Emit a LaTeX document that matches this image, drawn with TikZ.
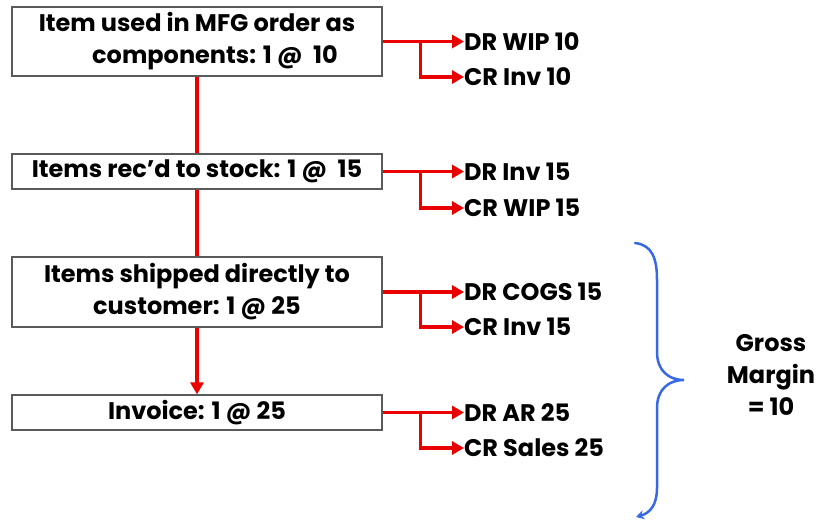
\documentclass[tikz,border=0pt]{standalone}
\usepackage{fontspec}
\setmainfont{Poppins}
\usetikzlibrary{arrows.meta}
\definecolor{lnred}{RGB}{235,0,0}
\definecolor{brblue}{RGB}{55,105,230}
\definecolor{boxgray}{RGB}{90,90,90}
\begin{document}
\begin{tikzpicture}[x=1pt,y=-1pt,
  txt/.style={font=\fontsize{24}{32}\selectfont\bfseries, text=black},
  stepbox/.style={draw=boxgray, line width=1.3pt, fill=white, minimum width=370pt, inner sep=0pt, align=center, txt},
  acc/.style={txt, anchor=west, inner sep=0pt},
  redline/.style={draw=lnred, line width=3.5pt},
  redarrow/.style={redline, -{Triangle[length=12pt,width=13pt]}},
]
\useasboundingbox (0,0) rectangle (818,519);
% boxes
\node[stepbox, minimum height=69pt] (b1) at (197,41.5) {Item used in MFG order as\\ \hspace*{1.5em}components: 1 @ \ 10};
\node[stepbox, minimum height=35pt] (b2) at (197,171.5) {Items rec'd to stock: 1 @ \ 15};
\node[stepbox, minimum height=70pt] (b3) at (197,292) {Items shipped directly to\\customer: 1 @ 25};
\node[stepbox, minimum height=35pt] (b4) at (197,412.5) {Invoice: 1 @ 25};
% vertical flow
\draw[redline] (b1.south) -- (b2.north);
\draw[redline] (b2.south) -- (b3.north);
\draw[redarrow] (b3.south) -- (b4.north);
% accounting entries
\node[acc] (d1) at (464,41.5) {DR WIP 10};
\node[acc] (c1) at (464,77) {CR Inv 10};
\node[acc] (d2) at (464,171.5) {DR Inv 15};
\node[acc] (c2) at (464,208) {CR WIP 15};
\node[acc] (d3) at (464,292) {DR COGS 15};
\node[acc] (c3) at (464,327) {CR Inv 15};
\node[acc] (d4) at (464,412.5) {DR AR 25};
\node[acc] (c4) at (464,448) {CR Sales 25};
\foreach \i in {1,2,3,4}{
  \coordinate (j\i) at ([xshift=38pt]b\i.east);
  \draw[redline] (b\i.east) -- (j\i);
  \draw[redarrow] (j\i) -- (d\i.west);
  \draw[redarrow] ([yshift=-1.75pt]j\i) |- (c\i.west);
}
% brace
\coordinate (bt) at (635,243);
\coordinate (bp) at (684,380);
\coordinate (bb) at (636,517);
\draw[brblue, line width=2.5pt, line cap=round, -{Stealth[length=8pt,width=9pt]}]
  (bt) .. controls (652,245) and (657,258) .. (657,280) -- (657,352)
  .. controls (657,370) and (668,380) .. (bp)
  .. controls (668,380) and (657,390) .. (657,408) -- (657,488)
  .. controls (657,505) and (650,513) .. (bb);
\node[txt, align=center] (gm) at (771,375) {Gross\\Margin\\= 10};
\end{tikzpicture}
\end{document}
